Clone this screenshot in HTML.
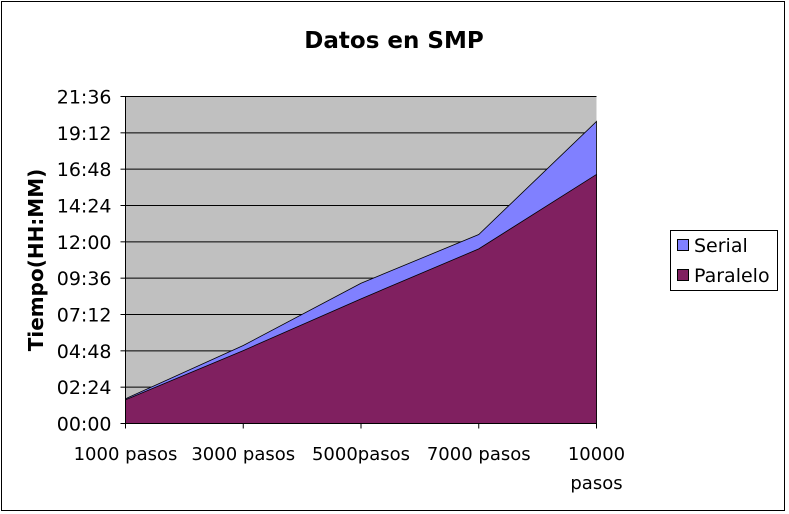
<!DOCTYPE html>
<html><head><meta charset="utf-8"><style>
body{margin:0;background:#fff;}
svg{display:block;font-family:"DejaVu Sans","Liberation Sans",sans-serif;}
</style></head><body>
<svg id="chart" width="789" height="514" viewBox="0 0 789 514">
<rect x="1.5" y="1.5" width="783" height="509" fill="#fff" stroke="#000" stroke-width="1"/>
<text x="394" y="48" text-anchor="middle" font-size="23" font-weight="bold">Datos en SMP</text>
<text transform="translate(43,260) rotate(-90)" text-anchor="middle" font-size="20" font-weight="bold">Tiempo(HH:MM)</text>
<g id="plot"></g>
<g>
<rect x="670.5" y="230.5" width="107" height="60" fill="#fff" stroke="#000"/>
<rect x="677.5" y="239.5" width="11" height="11" fill="#8080ff" stroke="#000"/>
<text x="694" y="252" font-size="19">Serial</text>
<rect x="677.5" y="269.5" width="11" height="11" fill="#802060" stroke="#000"/>
<text x="694" y="282" font-size="19">Paralelo</text>
</g>
</svg>
<script>
const categories = [["1000 pasos"],["3000 pasos"],["5000pasos"],["7000 pasos"],["10000","pasos"]];
const serialMinutes = [98, 309, 556, 749, 1197];
const paraleloMinutes = [94, 289, 494, 692, 987];
const yTickMinutes = [0, 144, 288, 432, 576, 720, 864, 1008, 1152, 1296];
const yTickLabels = ["00:00","02:24","04:48","07:12","09:36","12:00","14:24","16:48","19:12","21:36"];

const NS = "http://www.w3.org/2000/svg";
const X0 = 125.5, X1 = 596.5, YT = 96.5, YB = 423.5, YMAX = 1296;
const xPos = i => X0 + i * (X1 - X0) / (categories.length - 1);
const yPos = v => YB - v / YMAX * (YB - YT);
const plot = document.getElementById("plot");
function mk(tag, attrs){const e=document.createElementNS(NS,tag);for(const k in attrs)e.setAttribute(k,attrs[k]);plot.appendChild(e);return e;}

const bg = mk("rect",{x:X0,y:YT,width:X1-X0,height:YB-YT,fill:"#c0c0c0"});



yTickMinutes.forEach((v,i)=>{
  const y = yPos(v);
  if (i>0){
    const g = mk("line",{x1:X0,x2:X1,y1:y,y2:y,stroke:"#000","stroke-width":1});
    
    
  }
  const t = mk("line",{x1:X0-5,x2:X0,y1:y,y2:y,stroke:"#000"});
  
  
  const l = mk("text",{x:X0-14,y:y+7,"text-anchor":"end","font-size":"19"});
  l.textContent = yTickLabels[i];
  
  
});

function area(vals, fill, name){
  let d = "M"+xPos(0)+","+YB;
  vals.forEach((v,i)=>{ d += " L"+xPos(i)+","+yPos(v); });
  d += " L"+xPos(vals.length-1)+","+YB+" Z";
  const p = mk("path",{d:d,fill:fill,stroke:"#000","stroke-width":0.8});
  
  
}
area(serialMinutes,"#8080ff","series-serial-area");
area(paraleloMinutes,"#802060","series-paralelo-area");

const ax = mk("line",{x1:X0,x2:X0,y1:YT,y2:YB,stroke:"#000"});


const bx = mk("line",{x1:X0,x2:X1,y1:YB,y2:YB,stroke:"#000"});



categories.forEach((c,i)=>{
  const x = xPos(i);
  const t = mk("line",{x1:x,x2:x,y1:YB,y2:YB+5,stroke:"#000"});
  
  
  c.forEach((line,j)=>{
    const l = mk("text",{x:x,y:460+j*29,"text-anchor":"middle","font-size":"18"});
    l.textContent = line;
    
    
  });
});
</script>
</body></html>
